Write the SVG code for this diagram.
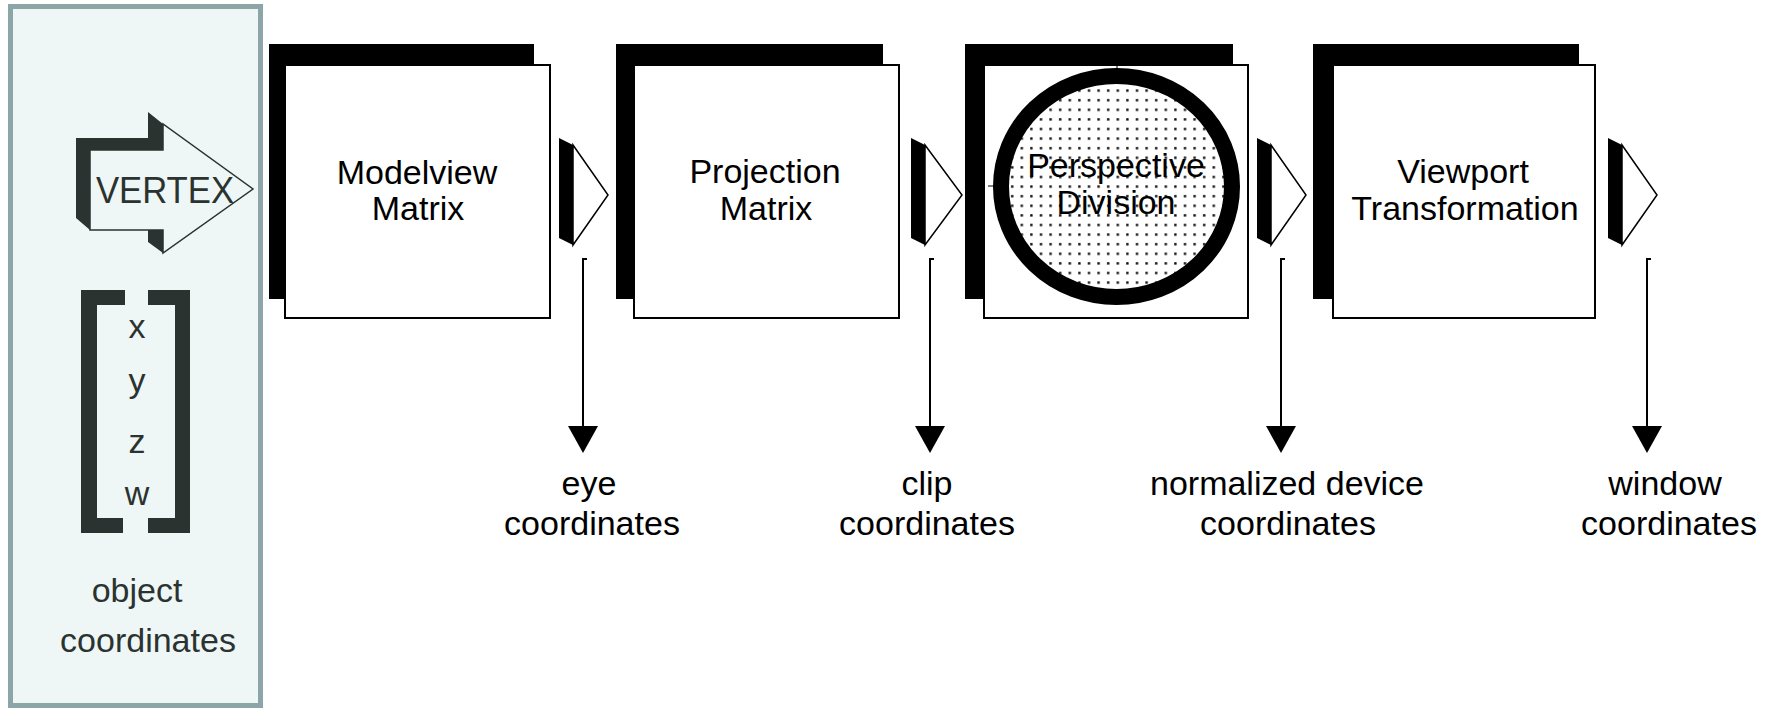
<svg xmlns="http://www.w3.org/2000/svg" width="1774" height="708" viewBox="0 0 1774 708">
<defs>
<pattern id="dots" x="0" y="0" width="9.6" height="9.6" patternUnits="userSpaceOnUse"><rect x="3" y="3" width="2.4" height="2.4" fill="#111"/></pattern>
<style>
.lbl{font-family:"Liberation Sans",Arial,sans-serif;font-size:34px;fill:#000;text-anchor:middle}
.pl{fill:#2b3331}
.shadow{fill:#000}
.box{fill:#fff;stroke:#000;stroke-width:2}
.dark{fill:#2b3331}
.tri{fill:#fff;stroke:#000;stroke-width:1.5;stroke-linejoin:miter}
.vline{fill:none;stroke:#000;stroke-width:2}
.head{fill:#000}
</style>
</defs>
<rect width="1774" height="708" fill="#fff"/>

<g id="object-panel">
<rect x="10.5" y="6.5" width="250" height="699" fill="#eef7f6" stroke="#8ca6a8" stroke-width="5"/>
<g id="vertex">
<polygon class="dark" points="76,138 148,138 148,112 163,124 163,150 90,150 90,230 76,218"/>
<polygon class="dark" points="148,230 163,230 163,253 148,242"/>
<polygon points="90,150 163,150 163,124 253,189 163,253 163,230 90,230" fill="#eef7f6" stroke="#2b3331" stroke-width="1.5"/>
<text x="96" y="203" class="lbl pl" style="text-anchor:start;font-size:36px" textLength="138" lengthAdjust="spacingAndGlyphs">VERTEX</text>
</g>
<g id="vector">
<polygon class="dark" points="81,290 125,290 125,305 97,305 97,518 123,518 123,533 81,533"/>
<polygon class="dark" points="148,290 190,290 190,533 148,533 148,518 175,518 175,305 148,305"/>
<text x="137" y="338" class="lbl pl">x</text>
<text x="137" y="392" class="lbl pl">y</text>
<text x="137" y="453" class="lbl pl">z</text>
<text x="137" y="505" class="lbl pl">w</text>
</g>
<text x="137" y="602" class="lbl pl">object</text>
<text x="148" y="652" class="lbl pl">coordinates</text>
</g>

<g id="modelview">
<rect class="shadow" x="269" y="44" width="265" height="255"/>
<rect class="box" x="285" y="65" width="265" height="253"/>
<text x="417" y="184" class="lbl">Modelview</text>
<text x="418" y="220" class="lbl">Matrix</text>
</g>

<g id="projection">
<rect class="shadow" x="616" y="44" width="267" height="255"/>
<rect class="box" x="634" y="65" width="265" height="253"/>
<text x="765" y="183" class="lbl">Projection</text>
<text x="766" y="220" class="lbl">Matrix</text>
</g>

<g id="perspective">
<rect class="shadow" x="965" y="44" width="268" height="255"/>
<rect class="box" x="984" y="65" width="264" height="253"/>
<line x1="1117" y1="64" x2="1117" y2="72" stroke="#000" stroke-width="1"/>
<line x1="988" y1="186" x2="996" y2="186" stroke="#000" stroke-width="1"/>
<ellipse cx="1116.5" cy="186.5" rx="115.5" ry="110.5" fill="url(#dots)" stroke="#000" stroke-width="16"/>
<text x="1116" y="177" class="lbl">Perspective</text>
<text x="1116" y="214" class="lbl">Division</text>
</g>

<g id="viewport">
<rect class="shadow" x="1313" y="44" width="266" height="255"/>
<rect class="box" x="1333" y="65" width="262" height="253"/>
<text x="1463" y="183" class="lbl">Viewport</text>
<text x="1465" y="220" class="lbl">Transformation</text>
</g>

<g id="connectors">
<g id="arrow1">
<polygon class="shadow" points="559,138 573,145 573,245 559,238"/>
<polygon class="tri" points="573,145 608,195 573,245"/>
</g>
<g id="arrow2">
<polygon class="shadow" points="911,138 925,145 925,245 911,238"/>
<polygon class="tri" points="925,145 962,195 925,245"/>
</g>
<g id="arrow3">
<polygon class="shadow" points="1257,138 1271,145 1271,245 1257,238"/>
<polygon class="tri" points="1271,145 1306,195 1271,245"/>
</g>
<g id="arrow4">
<polygon class="shadow" points="1608,138 1622,145 1622,245 1608,238"/>
<polygon class="tri" points="1622,145 1657,195 1622,245"/>
</g>
<g id="down1">
<path class="vline" d="M587,259 H583 V432"/>
<polygon class="head" points="568,426 598,426 583,453"/>
</g>
<g id="down2">
<path class="vline" d="M934,259 H930 V432"/>
<polygon class="head" points="915,426 945,426 930,453"/>
</g>
<g id="down3">
<path class="vline" d="M1285,259 H1281 V432"/>
<polygon class="head" points="1266,426 1296,426 1281,453"/>
</g>
<g id="down4">
<path class="vline" d="M1651,259 H1647 V432"/>
<polygon class="head" points="1632,426 1662,426 1647,453"/>
</g>
</g>

<g id="labels">
<text x="589" y="495" class="lbl">eye</text>
<text x="592" y="535" class="lbl">coordinates</text>
<text x="927" y="495" class="lbl">clip</text>
<text x="927" y="535" class="lbl">coordinates</text>
<text x="1287" y="495" class="lbl">normalized device</text>
<text x="1288" y="535" class="lbl">coordinates</text>
<text x="1665" y="495" class="lbl">window</text>
<text x="1669" y="535" class="lbl">coordinates</text>
</g>
</svg>
